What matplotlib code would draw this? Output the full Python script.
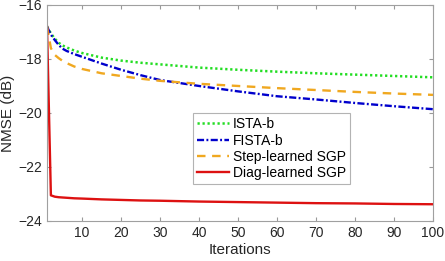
import matplotlib
matplotlib.use("Agg")
import matplotlib.pyplot as plt

plt.rcParams['font.family'] = ['Liberation Sans', 'DejaVu Sans']

iters = [1, 2, 3, 4, 5, 6, 8, 10, 15, 20, 25, 30, 40, 50, 60, 70, 80, 90, 100]

ista_b = [-16.8, -17.05, -17.25, -17.4, -17.5, -17.57, -17.69, -17.78, -17.95, -18.06,
          -18.14, -18.2, -18.32, -18.4, -18.47, -18.53, -18.58, -18.63, -18.68]
fista_b = [-16.8, -17.1, -17.3, -17.48, -17.62, -17.7, -17.82, -17.92, -18.17, -18.4,
           -18.6, -18.78, -19.0, -19.2, -19.38, -19.5, -19.63, -19.75, -19.86]
step_sgp = [-16.8, -17.6, -17.85, -17.97, -18.07, -18.15, -18.28, -18.37, -18.53, -18.63,
            -18.73, -18.81, -18.92, -19.0, -19.08, -19.15, -19.22, -19.28, -19.33]
diag_sgp = [-16.8, -23.05, -23.1, -23.12, -23.13, -23.14, -23.16, -23.17, -23.2, -23.22,
            -23.24, -23.25, -23.28, -23.3, -23.32, -23.34, -23.35, -23.37, -23.38]

x_ticks = [10, 20, 30, 40, 50, 60, 70, 80, 90, 100]
y_ticks = [-24, -22, -20, -18, -16]

fig = plt.figure(figsize=(4.45, 2.61), dpi=100)
ax = fig.add_axes([0.1056, 0.1533, 0.8674, 0.8277])

ax.plot(iters, ista_b, linestyle=(0, (0.9, 1.1)), color='#22dd22', lw=1.8, label='ISTA-b')
ax.plot(iters, fista_b, linestyle=(0, (3.0, 1.0, 0.8, 1.0)), color='#0000cc', lw=1.7,
        label='FISTA-b')
ax.plot(iters, step_sgp, linestyle=(0, (3.6, 2.8)), color='#f0a820', lw=1.7,
        label='Step-learned SGP')
ax.plot(iters, diag_sgp, '-', color='#dd1111', lw=1.7, label='Diag-learned SGP')

ax.set_xlim(1, 100)
ax.set_ylim(-24, -16)
ax.set_xticks(x_ticks)
ax.set_yticks(y_ticks)
ax.tick_params(direction='in', top=True, right=True, length=3, color='#999999',
               labelsize=10, labelcolor='#262626', width=0.8)
for s in ax.spines.values():
    s.set_color('#a0a0a0')
    s.set_linewidth(0.8)

ax.set_xlabel('Iterations', fontsize=11, color='#262626', labelpad=2)
ax.set_ylabel('NMSE (dB)', fontsize=11, color='#262626', labelpad=2)

leg = ax.legend(loc='upper left', bbox_to_anchor=(0.378, 0.5), fontsize=10,
                frameon=True, fancybox=False, edgecolor='#a0a0a0', handlelength=2.3,
                borderpad=0.3, labelspacing=0.17, handletextpad=0.3, borderaxespad=0)
leg.get_frame().set_linewidth(0.8)

fig.savefig('out.png', dpi=100)
